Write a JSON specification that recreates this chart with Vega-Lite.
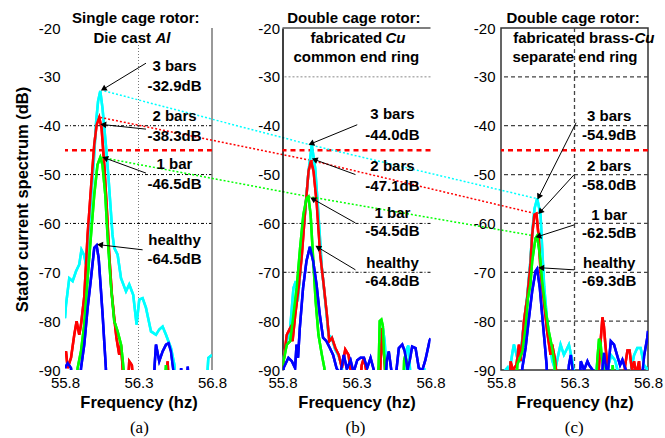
{
"$schema":"https://vega.github.io/schema/vega-lite/v6.json",
"background":"white",
"padding":{"left":14,"top":10,"right":0,"bottom":0},
"bounds":"flush",
"spacing":70.5,
"config":{"view":{"stroke":null},
 "axis":{"grid":false,"ticks":false,"domain":false,"labelFont":"Liberation Sans","labelFontSize":15,"labelColor":"#000","titleFont":"Liberation Sans","titleFontSize":16.5,"titleFontWeight":"bold","titleColor":"#000","labelPadding":5},
 "text":{"font":"Liberation Sans"}},
"datasets":{
"curves":[
{"p":"a","s":"3 bars","f":55.8,"db":-79.4},{"p":"a","s":"3 bars","f":55.807,"db":-76.6},{"p":"a","s":"3 bars","f":55.829,"db":-71.2},{"p":"a","s":"3 bars","f":55.852,"db":-71.8},{"p":"a","s":"3 bars","f":55.875,"db":-69.8},{"p":"a","s":"3 bars","f":55.897,"db":-68.4},{"p":"a","s":"3 bars","f":55.912,"db":-65.4},{"p":"a","s":"3 bars","f":55.93,"db":-66.5},{"p":"a","s":"3 bars","f":55.943,"db":-68.4},{"p":"a","s":"3 bars","f":55.958,"db":-62.3},{"p":"a","s":"3 bars","f":55.974,"db":-56.2},{"p":"a","s":"3 bars","f":55.996,"db":-47.3},{"p":"a","s":"3 bars","f":56.012,"db":-39.1},{"p":"a","s":"3 bars","f":56.025,"db":-35.0},{"p":"a","s":"3 bars","f":56.04,"db":-32.9},{"p":"a","s":"3 bars","f":56.055,"db":-36.4},{"p":"a","s":"3 bars","f":56.078,"db":-43.9},{"p":"a","s":"3 bars","f":56.096,"db":-50.7},{"p":"a","s":"3 bars","f":56.112,"db":-57.5},{"p":"a","s":"3 bars","f":56.123,"db":-62.3},{"p":"a","s":"3 bars","f":56.135,"db":-65.0},{"p":"a","s":"3 bars","f":56.158,"db":-66.4},{"p":"a","s":"3 bars","f":56.181,"db":-71.2},{"p":"a","s":"3 bars","f":56.215,"db":-73.9},{"p":"a","s":"3 bars","f":56.237,"db":-72.5},{"p":"a","s":"3 bars","f":56.264,"db":-74.6},{"p":"a","s":"3 bars","f":56.287,"db":-80.7},{"p":"a","s":"3 bars","f":56.305,"db":-75.6},{"p":"a","s":"3 bars","f":56.328,"db":-75.3},{"p":"a","s":"3 bars","f":56.351,"db":-77.3},{"p":"a","s":"3 bars","f":56.385,"db":-82.1},{"p":"a","s":"3 bars","f":56.419,"db":-82.8},{"p":"a","s":"3 bars","f":56.441,"db":-81.7},{"p":"a","s":"3 bars","f":56.464,"db":-81.1},{"p":"a","s":"3 bars","f":56.487,"db":-82.8},{"p":"a","s":"3 bars","f":56.521,"db":-85.5},{"p":"a","s":"3 bars","f":56.544,"db":-88.9},{"p":"a","s":"3 bars","f":56.56,"db":-95},{"p":"a","s":"3 bars","f":56.76,"db":-95},{"p":"a","s":"3 bars","f":56.775,"db":-87.5},{"p":"a","s":"3 bars","f":56.8,"db":-86.9},
{"p":"a","s":"2 bars","f":55.8,"db":-86.9},{"p":"a","s":"2 bars","f":55.807,"db":-86.2},{"p":"a","s":"2 bars","f":55.818,"db":-89.6},{"p":"a","s":"2 bars","f":55.841,"db":-87.5},{"p":"a","s":"2 bars","f":55.863,"db":-82.8},{"p":"a","s":"2 bars","f":55.879,"db":-80.0},{"p":"a","s":"2 bars","f":55.897,"db":-82.8},{"p":"a","s":"2 bars","f":55.909,"db":-80.7},{"p":"a","s":"2 bars","f":55.931,"db":-75.0},{"p":"a","s":"2 bars","f":55.954,"db":-62.3},{"p":"a","s":"2 bars","f":55.977,"db":-52.7},{"p":"a","s":"2 bars","f":55.999,"db":-43.9},{"p":"a","s":"2 bars","f":56.015,"db":-39.8},{"p":"a","s":"2 bars","f":56.033,"db":-38.3},{"p":"a","s":"2 bars","f":56.049,"db":-40.5},{"p":"a","s":"2 bars","f":56.067,"db":-48.0},{"p":"a","s":"2 bars","f":56.083,"db":-56.2},{"p":"a","s":"2 bars","f":56.101,"db":-66.4},{"p":"a","s":"2 bars","f":56.119,"db":-74.6},{"p":"a","s":"2 bars","f":56.135,"db":-79.4},{"p":"a","s":"2 bars","f":56.15,"db":-83.4},{"p":"a","s":"2 bars","f":56.169,"db":-86.9},{"p":"a","s":"2 bars","f":56.18,"db":-84.8},{"p":"a","s":"2 bars","f":56.191,"db":-88.9},{"p":"a","s":"2 bars","f":56.2,"db":-95},{"p":"a","s":"2 bars","f":56.225,"db":-95},{"p":"a","s":"2 bars","f":56.237,"db":-88.2},{"p":"a","s":"2 bars","f":56.255,"db":-89.0},{"p":"a","s":"2 bars","f":56.27,"db":-95},{"p":"a","s":"2 bars","f":56.485,"db":-95},{"p":"a","s":"2 bars","f":56.498,"db":-88.2},{"p":"a","s":"2 bars","f":56.51,"db":-95},
{"p":"a","s":"1 bar","f":55.8,"db":-95},{"p":"a","s":"1 bar","f":55.875,"db":-95},{"p":"a","s":"1 bar","f":55.886,"db":-89.6},{"p":"a","s":"1 bar","f":55.909,"db":-86.1},{"p":"a","s":"1 bar","f":55.931,"db":-80.7},{"p":"a","s":"1 bar","f":55.954,"db":-71.2},{"p":"a","s":"1 bar","f":55.977,"db":-62.3},{"p":"a","s":"1 bar","f":55.999,"db":-54.1},{"p":"a","s":"1 bar","f":56.021,"db":-48.0},{"p":"a","s":"1 bar","f":56.04,"db":-46.5},{"p":"a","s":"1 bar","f":56.055,"db":-48.0},{"p":"a","s":"1 bar","f":56.074,"db":-54.1},{"p":"a","s":"1 bar","f":56.089,"db":-62.3},{"p":"a","s":"1 bar","f":56.112,"db":-72.5},{"p":"a","s":"1 bar","f":56.135,"db":-80.0},{"p":"a","s":"1 bar","f":56.158,"db":-82.1},{"p":"a","s":"1 bar","f":56.181,"db":-84.8},{"p":"a","s":"1 bar","f":56.191,"db":-87.5},{"p":"a","s":"1 bar","f":56.2,"db":-90.5},{"p":"a","s":"1 bar","f":56.21,"db":-95},{"p":"a","s":"1 bar","f":56.475,"db":-95},{"p":"a","s":"1 bar","f":56.487,"db":-89.0},{"p":"a","s":"1 bar","f":56.5,"db":-95},{"p":"a","s":"1 bar","f":56.8,"db":-95},
{"p":"a","s":"healthy","f":55.8,"db":-89.6},{"p":"a","s":"healthy","f":55.818,"db":-88.6},{"p":"a","s":"healthy","f":55.841,"db":-89.6},{"p":"a","s":"healthy","f":55.85,"db":-95},{"p":"a","s":"healthy","f":55.895,"db":-95},{"p":"a","s":"healthy","f":55.909,"db":-89.6},{"p":"a","s":"healthy","f":55.931,"db":-84.8},{"p":"a","s":"healthy","f":55.954,"db":-77.3},{"p":"a","s":"healthy","f":55.977,"db":-71.2},{"p":"a","s":"healthy","f":55.999,"db":-65.0},{"p":"a","s":"healthy","f":56.015,"db":-64.5},{"p":"a","s":"healthy","f":56.029,"db":-67.1},{"p":"a","s":"healthy","f":56.045,"db":-73.9},{"p":"a","s":"healthy","f":56.056,"db":-78.7},{"p":"a","s":"healthy","f":56.067,"db":-84.2},{"p":"a","s":"healthy","f":56.078,"db":-89.6},{"p":"a","s":"healthy","f":56.085,"db":-95},{"p":"a","s":"healthy","f":56.4,"db":-95},{"p":"a","s":"healthy","f":56.41,"db":-88.9},{"p":"a","s":"healthy","f":56.419,"db":-84.8},{"p":"a","s":"healthy","f":56.441,"db":-88.2},{"p":"a","s":"healthy","f":56.464,"db":-86.2},{"p":"a","s":"healthy","f":56.487,"db":-84.8},{"p":"a","s":"healthy","f":56.505,"db":-84.5},{"p":"a","s":"healthy","f":56.521,"db":-86.2},{"p":"a","s":"healthy","f":56.537,"db":-90.0},{"p":"a","s":"healthy","f":56.545,"db":-95},{"p":"a","s":"healthy","f":56.58,"db":-95},{"p":"a","s":"healthy","f":56.59,"db":-89.6},{"p":"a","s":"healthy","f":56.6,"db":-95},{"p":"a","s":"healthy","f":56.625,"db":-95},{"p":"a","s":"healthy","f":56.635,"db":-89.3},{"p":"a","s":"healthy","f":56.645,"db":-95},{"p":"a","s":"healthy","f":56.8,"db":-95},
{"p":"b","s":"3 bars","f":55.8,"db":-89},{"p":"b","s":"3 bars","f":55.807,"db":-87.5},{"p":"b","s":"3 bars","f":55.829,"db":-84.1},{"p":"b","s":"3 bars","f":55.852,"db":-81.4},{"p":"b","s":"3 bars","f":55.874,"db":-73.2},{"p":"b","s":"3 bars","f":55.89,"db":-71.8},{"p":"b","s":"3 bars","f":55.903,"db":-75.9},{"p":"b","s":"3 bars","f":55.92,"db":-70.0},{"p":"b","s":"3 bars","f":55.935,"db":-63.0},{"p":"b","s":"3 bars","f":55.953,"db":-57.5},{"p":"b","s":"3 bars","f":55.976,"db":-49.3},{"p":"b","s":"3 bars","f":55.998,"db":-44.0},{"p":"b","s":"3 bars","f":56.021,"db":-48.7},{"p":"b","s":"3 bars","f":56.043,"db":-58.2},{"p":"b","s":"3 bars","f":56.066,"db":-69.1},{"p":"b","s":"3 bars","f":56.089,"db":-75.9},{"p":"b","s":"3 bars","f":56.111,"db":-82.8},{"p":"b","s":"3 bars","f":56.133,"db":-83.4},{"p":"b","s":"3 bars","f":56.156,"db":-85.8},{"p":"b","s":"3 bars","f":56.178,"db":-87.0},{"p":"b","s":"3 bars","f":56.2,"db":-89.0},{"p":"b","s":"3 bars","f":56.21,"db":-95},{"p":"b","s":"3 bars","f":56.45,"db":-95},{"p":"b","s":"3 bars","f":56.462,"db":-84.0},{"p":"b","s":"3 bars","f":56.478,"db":-81.4},{"p":"b","s":"3 bars","f":56.49,"db":-84.0},{"p":"b","s":"3 bars","f":56.5,"db":-89.0},{"p":"b","s":"3 bars","f":56.51,"db":-95},{"p":"b","s":"3 bars","f":56.625,"db":-95},{"p":"b","s":"3 bars","f":56.635,"db":-86.0},{"p":"b","s":"3 bars","f":56.65,"db":-85.0},{"p":"b","s":"3 bars","f":56.662,"db":-90.0},{"p":"b","s":"3 bars","f":56.67,"db":-95},{"p":"b","s":"3 bars","f":56.75,"db":-95},{"p":"b","s":"3 bars","f":56.757,"db":-89.6},{"p":"b","s":"3 bars","f":56.765,"db":-95},
{"p":"b","s":"2 bars","f":55.8,"db":-90},{"p":"b","s":"2 bars","f":55.807,"db":-88.2},{"p":"b","s":"2 bars","f":55.829,"db":-82.8},{"p":"b","s":"2 bars","f":55.852,"db":-81.4},{"p":"b","s":"2 bars","f":55.868,"db":-84.1},{"p":"b","s":"2 bars","f":55.886,"db":-78.7},{"p":"b","s":"2 bars","f":55.909,"db":-73.2},{"p":"b","s":"2 bars","f":55.931,"db":-66.4},{"p":"b","s":"2 bars","f":55.953,"db":-57.5},{"p":"b","s":"2 bars","f":55.976,"db":-49.3},{"p":"b","s":"2 bars","f":55.992,"db":-47.1},{"p":"b","s":"2 bars","f":56.01,"db":-49.3},{"p":"b","s":"2 bars","f":56.032,"db":-56.2},{"p":"b","s":"2 bars","f":56.055,"db":-66.4},{"p":"b","s":"2 bars","f":56.078,"db":-72.5},{"p":"b","s":"2 bars","f":56.1,"db":-78.7},{"p":"b","s":"2 bars","f":56.116,"db":-84.1},{"p":"b","s":"2 bars","f":56.134,"db":-83.4},{"p":"b","s":"2 bars","f":56.157,"db":-85.5},{"p":"b","s":"2 bars","f":56.18,"db":-86.9},{"p":"b","s":"2 bars","f":56.201,"db":-89.6},{"p":"b","s":"2 bars","f":56.224,"db":-85.8},{"p":"b","s":"2 bars","f":56.246,"db":-86.9},{"p":"b","s":"2 bars","f":56.26,"db":-90.0},{"p":"b","s":"2 bars","f":56.275,"db":-95},{"p":"b","s":"2 bars","f":56.32,"db":-95},{"p":"b","s":"2 bars","f":56.335,"db":-89.0},{"p":"b","s":"2 bars","f":56.35,"db":-87.5},{"p":"b","s":"2 bars","f":56.365,"db":-90.0},{"p":"b","s":"2 bars","f":56.375,"db":-95},{"p":"b","s":"2 bars","f":56.455,"db":-95},{"p":"b","s":"2 bars","f":56.465,"db":-86.0},{"p":"b","s":"2 bars","f":56.474,"db":-81.4},{"p":"b","s":"2 bars","f":56.483,"db":-86.2},{"p":"b","s":"2 bars","f":56.492,"db":-89.0},{"p":"b","s":"2 bars","f":56.5,"db":-95},
{"p":"b","s":"1 bar","f":55.8,"db":-90.5},{"p":"b","s":"1 bar","f":55.807,"db":-88.2},{"p":"b","s":"1 bar","f":55.829,"db":-84.8},{"p":"b","s":"1 bar","f":55.852,"db":-84.1},{"p":"b","s":"1 bar","f":55.874,"db":-78.7},{"p":"b","s":"1 bar","f":55.896,"db":-73.2},{"p":"b","s":"1 bar","f":55.919,"db":-65.0},{"p":"b","s":"1 bar","f":55.941,"db":-58.2},{"p":"b","s":"1 bar","f":55.963,"db":-54.8},{"p":"b","s":"1 bar","f":55.975,"db":-54.5},{"p":"b","s":"1 bar","f":55.99,"db":-58.2},{"p":"b","s":"1 bar","f":56.008,"db":-67.7},{"p":"b","s":"1 bar","f":56.024,"db":-75.9},{"p":"b","s":"1 bar","f":56.043,"db":-82.8},{"p":"b","s":"1 bar","f":56.066,"db":-86.9},{"p":"b","s":"1 bar","f":56.083,"db":-89.6},{"p":"b","s":"1 bar","f":56.09,"db":-95},{"p":"b","s":"1 bar","f":56.44,"db":-95},{"p":"b","s":"1 bar","f":56.45,"db":-88.9},{"p":"b","s":"1 bar","f":56.457,"db":-80.0},{"p":"b","s":"1 bar","f":56.468,"db":-79.7},{"p":"b","s":"1 bar","f":56.478,"db":-81.0},{"p":"b","s":"1 bar","f":56.485,"db":-86.2},{"p":"b","s":"1 bar","f":56.492,"db":-89.0},{"p":"b","s":"1 bar","f":56.5,"db":-95},{"p":"b","s":"1 bar","f":56.615,"db":-95},{"p":"b","s":"1 bar","f":56.622,"db":-88.0},{"p":"b","s":"1 bar","f":56.631,"db":-86.9},{"p":"b","s":"1 bar","f":56.645,"db":-90.0},{"p":"b","s":"1 bar","f":56.65,"db":-95},
{"p":"b","s":"healthy","f":55.8,"db":-95},{"p":"b","s":"healthy","f":55.807,"db":-89.6},{"p":"b","s":"healthy","f":55.84,"db":-87.5},{"p":"b","s":"healthy","f":55.863,"db":-88.2},{"p":"b","s":"healthy","f":55.885,"db":-89.6},{"p":"b","s":"healthy","f":55.895,"db":-84.8},{"p":"b","s":"healthy","f":55.905,"db":-87.5},{"p":"b","s":"healthy","f":55.917,"db":-81.4},{"p":"b","s":"healthy","f":55.939,"db":-73.2},{"p":"b","s":"healthy","f":55.962,"db":-67.7},{"p":"b","s":"healthy","f":55.985,"db":-64.8},{"p":"b","s":"healthy","f":56.007,"db":-67.7},{"p":"b","s":"healthy","f":56.03,"db":-72.5},{"p":"b","s":"healthy","f":56.052,"db":-78.7},{"p":"b","s":"healthy","f":56.074,"db":-83.4},{"p":"b","s":"healthy","f":56.097,"db":-84.1},{"p":"b","s":"healthy","f":56.12,"db":-85.5},{"p":"b","s":"healthy","f":56.142,"db":-86.9},{"p":"b","s":"healthy","f":56.165,"db":-89.6},{"p":"b","s":"healthy","f":56.19,"db":-91},{"p":"b","s":"healthy","f":56.214,"db":-86.9},{"p":"b","s":"healthy","f":56.235,"db":-89.8},{"p":"b","s":"healthy","f":56.26,"db":-88.0},{"p":"b","s":"healthy","f":56.28,"db":-90.5},{"p":"b","s":"healthy","f":56.305,"db":-88.0},{"p":"b","s":"healthy","f":56.327,"db":-87.5},{"p":"b","s":"healthy","f":56.35,"db":-87.5},{"p":"b","s":"healthy","f":56.372,"db":-89.6},{"p":"b","s":"healthy","f":56.395,"db":-87.5},{"p":"b","s":"healthy","f":56.417,"db":-90.0},{"p":"b","s":"healthy","f":56.44,"db":-95},{"p":"b","s":"healthy","f":56.49,"db":-95},{"p":"b","s":"healthy","f":56.505,"db":-88.0},{"p":"b","s":"healthy","f":56.518,"db":-86.2},{"p":"b","s":"healthy","f":56.535,"db":-90.0},{"p":"b","s":"healthy","f":56.555,"db":-95},{"p":"b","s":"healthy","f":56.57,"db":-90.0},{"p":"b","s":"healthy","f":56.586,"db":-85.5},{"p":"b","s":"healthy","f":56.609,"db":-84.8},{"p":"b","s":"healthy","f":56.626,"db":-86.2},{"p":"b","s":"healthy","f":56.645,"db":-90.0},{"p":"b","s":"healthy","f":56.66,"db":-88.0},{"p":"b","s":"healthy","f":56.676,"db":-85.2},{"p":"b","s":"healthy","f":56.699,"db":-85.5},{"p":"b","s":"healthy","f":56.721,"db":-89.6},{"p":"b","s":"healthy","f":56.745,"db":-90.0},{"p":"b","s":"healthy","f":56.765,"db":-88.0},{"p":"b","s":"healthy","f":56.778,"db":-86.2},{"p":"b","s":"healthy","f":56.793,"db":-84.1},{"p":"b","s":"healthy","f":56.8,"db":-83.5},
{"p":"c","s":"3 bars","f":55.8,"db":-91},{"p":"c","s":"3 bars","f":55.845,"db":-89.5},{"p":"c","s":"3 bars","f":55.856,"db":-90.5},{"p":"c","s":"3 bars","f":55.87,"db":-88.0},{"p":"c","s":"3 bars","f":55.879,"db":-86.2},{"p":"c","s":"3 bars","f":55.888,"db":-84.8},{"p":"c","s":"3 bars","f":55.911,"db":-87.5},{"p":"c","s":"3 bars","f":55.93,"db":-88.0},{"p":"c","s":"3 bars","f":55.95,"db":-82.0},{"p":"c","s":"3 bars","f":55.978,"db":-75.0},{"p":"c","s":"3 bars","f":55.999,"db":-68.0},{"p":"c","s":"3 bars","f":56.012,"db":-62.0},{"p":"c","s":"3 bars","f":56.028,"db":-57.0},{"p":"c","s":"3 bars","f":56.046,"db":-54.9},{"p":"c","s":"3 bars","f":56.069,"db":-58.2},{"p":"c","s":"3 bars","f":56.08,"db":-65.0},{"p":"c","s":"3 bars","f":56.094,"db":-73.0},{"p":"c","s":"3 bars","f":56.114,"db":-80.0},{"p":"c","s":"3 bars","f":56.135,"db":-85.0},{"p":"c","s":"3 bars","f":56.148,"db":-88.0},{"p":"c","s":"3 bars","f":56.169,"db":-90.0},{"p":"c","s":"3 bars","f":56.182,"db":-88.0},{"p":"c","s":"3 bars","f":56.205,"db":-84.8},{"p":"c","s":"3 bars","f":56.228,"db":-86.9},{"p":"c","s":"3 bars","f":56.243,"db":-86.0},{"p":"c","s":"3 bars","f":56.262,"db":-84.8},{"p":"c","s":"3 bars","f":56.284,"db":-88.0},{"p":"c","s":"3 bars","f":56.298,"db":-91},{"p":"c","s":"3 bars","f":56.31,"db":-95},{"p":"c","s":"3 bars","f":56.433,"db":-95},{"p":"c","s":"3 bars","f":56.456,"db":-88.2},{"p":"c","s":"3 bars","f":56.479,"db":-86.7},{"p":"c","s":"3 bars","f":56.5,"db":-88.0},{"p":"c","s":"3 bars","f":56.52,"db":-90.0},{"p":"c","s":"3 bars","f":56.55,"db":-87.0},{"p":"c","s":"3 bars","f":56.576,"db":-88.0},{"p":"c","s":"3 bars","f":56.6,"db":-91},{"p":"c","s":"3 bars","f":56.644,"db":-95},{"p":"c","s":"3 bars","f":56.685,"db":-90.0},{"p":"c","s":"3 bars","f":56.705,"db":-87.0},{"p":"c","s":"3 bars","f":56.727,"db":-85.5},{"p":"c","s":"3 bars","f":56.75,"db":-85.5},{"p":"c","s":"3 bars","f":56.773,"db":-89.0},{"p":"c","s":"3 bars","f":56.8,"db":-90.0},
{"p":"c","s":"2 bars","f":55.8,"db":-95},{"p":"c","s":"2 bars","f":55.855,"db":-95},{"p":"c","s":"2 bars","f":55.865,"db":-88.2},{"p":"c","s":"2 bars","f":55.88,"db":-90.0},{"p":"c","s":"2 bars","f":55.905,"db":-89.0},{"p":"c","s":"2 bars","f":55.922,"db":-84.8},{"p":"c","s":"2 bars","f":55.933,"db":-88.2},{"p":"c","s":"2 bars","f":55.956,"db":-80.0},{"p":"c","s":"2 bars","f":55.978,"db":-75.3},{"p":"c","s":"2 bars","f":56.0,"db":-68.4},{"p":"c","s":"2 bars","f":56.012,"db":-62.3},{"p":"c","s":"2 bars","f":56.027,"db":-58.2},{"p":"c","s":"2 bars","f":56.041,"db":-58.0},{"p":"c","s":"2 bars","f":56.057,"db":-63.0},{"p":"c","s":"2 bars","f":56.069,"db":-69.8},{"p":"c","s":"2 bars","f":56.092,"db":-75.9},{"p":"c","s":"2 bars","f":56.114,"db":-82.1},{"p":"c","s":"2 bars","f":56.137,"db":-86.9},{"p":"c","s":"2 bars","f":56.148,"db":-84.8},{"p":"c","s":"2 bars","f":56.17,"db":-88.2},{"p":"c","s":"2 bars","f":56.185,"db":-95},{"p":"c","s":"2 bars","f":56.455,"db":-95},{"p":"c","s":"2 bars","f":56.467,"db":-89.0},{"p":"c","s":"2 bars","f":56.478,"db":-84.0},{"p":"c","s":"2 bars","f":56.49,"db":-79.2},{"p":"c","s":"2 bars","f":56.5,"db":-81.0},{"p":"c","s":"2 bars","f":56.51,"db":-84.8},{"p":"c","s":"2 bars","f":56.52,"db":-88.0},{"p":"c","s":"2 bars","f":56.53,"db":-95},{"p":"c","s":"2 bars","f":56.63,"db":-95},{"p":"c","s":"2 bars","f":56.645,"db":-89.0},{"p":"c","s":"2 bars","f":56.66,"db":-86.0},{"p":"c","s":"2 bars","f":56.675,"db":-86.0},{"p":"c","s":"2 bars","f":56.69,"db":-90.0},{"p":"c","s":"2 bars","f":56.705,"db":-88.2},{"p":"c","s":"2 bars","f":56.72,"db":-91},{"p":"c","s":"2 bars","f":56.739,"db":-88.2},{"p":"c","s":"2 bars","f":56.755,"db":-95},{"p":"c","s":"2 bars","f":56.8,"db":-95},
{"p":"c","s":"1 bar","f":55.8,"db":-95},{"p":"c","s":"1 bar","f":55.9,"db":-95},{"p":"c","s":"1 bar","f":55.911,"db":-88.9},{"p":"c","s":"1 bar","f":55.945,"db":-86.2},{"p":"c","s":"1 bar","f":55.967,"db":-81.4},{"p":"c","s":"1 bar","f":55.983,"db":-75.3},{"p":"c","s":"1 bar","f":56.0,"db":-72.5},{"p":"c","s":"1 bar","f":56.012,"db":-67.7},{"p":"c","s":"1 bar","f":56.035,"db":-63.0},{"p":"c","s":"1 bar","f":56.046,"db":-62.5},{"p":"c","s":"1 bar","f":56.064,"db":-66.4},{"p":"c","s":"1 bar","f":56.08,"db":-71.8},{"p":"c","s":"1 bar","f":56.102,"db":-77.3},{"p":"c","s":"1 bar","f":56.125,"db":-82.1},{"p":"c","s":"1 bar","f":56.148,"db":-85.5},{"p":"c","s":"1 bar","f":56.165,"db":-89.0},{"p":"c","s":"1 bar","f":56.175,"db":-95},{"p":"c","s":"1 bar","f":56.445,"db":-95},{"p":"c","s":"1 bar","f":56.455,"db":-88.0},{"p":"c","s":"1 bar","f":56.467,"db":-83.6},{"p":"c","s":"1 bar","f":56.477,"db":-84.5},{"p":"c","s":"1 bar","f":56.485,"db":-87.2},{"p":"c","s":"1 bar","f":56.495,"db":-89.0},{"p":"c","s":"1 bar","f":56.505,"db":-95},{"p":"c","s":"1 bar","f":56.55,"db":-95},{"p":"c","s":"1 bar","f":56.56,"db":-89.0},{"p":"c","s":"1 bar","f":56.57,"db":-95},{"p":"c","s":"1 bar","f":56.8,"db":-95},
{"p":"c","s":"healthy","f":55.8,"db":-95},{"p":"c","s":"healthy","f":55.93,"db":-95},{"p":"c","s":"healthy","f":55.945,"db":-89.6},{"p":"c","s":"healthy","f":55.967,"db":-85.5},{"p":"c","s":"healthy","f":55.99,"db":-79.4},{"p":"c","s":"healthy","f":56.012,"db":-73.9},{"p":"c","s":"healthy","f":56.035,"db":-69.8},{"p":"c","s":"healthy","f":56.046,"db":-69.3},{"p":"c","s":"healthy","f":56.064,"db":-73.2},{"p":"c","s":"healthy","f":56.08,"db":-78.7},{"p":"c","s":"healthy","f":56.096,"db":-84.1},{"p":"c","s":"healthy","f":56.11,"db":-88.9},{"p":"c","s":"healthy","f":56.12,"db":-95},{"p":"c","s":"healthy","f":56.25,"db":-95},{"p":"c","s":"healthy","f":56.262,"db":-89.0},{"p":"c","s":"healthy","f":56.275,"db":-86.9},{"p":"c","s":"healthy","f":56.288,"db":-90.0},{"p":"c","s":"healthy","f":56.3,"db":-95},{"p":"c","s":"healthy","f":56.33,"db":-95},{"p":"c","s":"healthy","f":56.343,"db":-88.2},{"p":"c","s":"healthy","f":56.365,"db":-90.0},{"p":"c","s":"healthy","f":56.388,"db":-88.2},{"p":"c","s":"healthy","f":56.4,"db":-89.0},{"p":"c","s":"healthy","f":56.423,"db":-90.0},{"p":"c","s":"healthy","f":56.44,"db":-95},{"p":"c","s":"healthy","f":56.485,"db":-95},{"p":"c","s":"healthy","f":56.492,"db":-89.0},{"p":"c","s":"healthy","f":56.501,"db":-86.5},{"p":"c","s":"healthy","f":56.512,"db":-89.0},{"p":"c","s":"healthy","f":56.525,"db":-91},{"p":"c","s":"healthy","f":56.535,"db":-88.0},{"p":"c","s":"healthy","f":56.547,"db":-84.1},{"p":"c","s":"healthy","f":56.569,"db":-84.8},{"p":"c","s":"healthy","f":56.592,"db":-87.2},{"p":"c","s":"healthy","f":56.61,"db":-89.0},{"p":"c","s":"healthy","f":56.626,"db":-87.9},{"p":"c","s":"healthy","f":56.649,"db":-90.0},{"p":"c","s":"healthy","f":56.66,"db":-95},{"p":"c","s":"healthy","f":56.75,"db":-95},{"p":"c","s":"healthy","f":56.773,"db":-87.2},{"p":"c","s":"healthy","f":56.795,"db":-83.4},{"p":"c","s":"healthy","f":56.8,"db":-82.0}
],
"links":[
{"p":"a","s":"3 bars","f":56.068,"db":-32.9},{"p":"a","s":"3 bars","f":57.479,"db":-44.0},
{"p":"a","s":"2 bars","f":56.04,"db":-38.3},{"p":"a","s":"2 bars","f":57.473,"db":-47.1},
{"p":"a","s":"1 bar","f":56.05,"db":-46.5},{"p":"a","s":"1 bar","f":57.456,"db":-54.5},
{"p":"b","s":"3 bars","f":55.998,"db":-44.0},{"p":"b","s":"3 bars","f":57.515,"db":-54.9},
{"p":"b","s":"2 bars","f":55.992,"db":-47.1},{"p":"b","s":"2 bars","f":57.51,"db":-58.0},
{"p":"b","s":"1 bar","f":55.975,"db":-54.5},{"p":"b","s":"1 bar","f":57.495,"db":-62.5}
],
"arrows":[
{"p":"a","x":56.351,"y":-27.2,"x2":56.067,"y2":-32.4},{"p":"a","x":56.351,"y":-40.7,"x2":56.067,"y2":-39.8},{"p":"a","x":56.351,"y":-49.7,"x2":56.079,"y2":-46.7},{"p":"a","x":56.328,"y":-65.4,"x2":56.045,"y2":-64.4},
{"p":"b","x":56.305,"y":-39.8,"x2":56.0,"y2":-43.6},{"p":"b","x":56.293,"y":-50.0,"x2":56.023,"y2":-47.0},{"p":"b","x":56.293,"y":-59.9,"x2":56.011,"y2":-55.1},{"p":"b","x":56.293,"y":-69.5,"x2":56.045,"y2":-65.0},
{"p":"c","x":56.311,"y":-39.4,"x2":56.06,"y2":-54.4},{"p":"c","x":56.298,"y":-50.0,"x2":56.071,"y2":-57.5},{"p":"c","x":56.298,"y":-60.3,"x2":56.06,"y2":-62.6},{"p":"c","x":56.298,"y":-69.5,"x2":56.08,"y2":-69.1}
],
"notes":[
{"p":"a","t":"3 bars","x":56.545,"y":-27.8},{"p":"a","t":"-32.9dB","x":56.545,"y":-31.9},{"p":"a","t":"2 bars","x":56.545,"y":-38.0},{"p":"a","t":"-38.3dB","x":56.545,"y":-42.1},{"p":"a","t":"1 bar","x":56.545,"y":-47.8},{"p":"a","t":"-46.5dB","x":56.545,"y":-51.9},{"p":"a","t":"healthy","x":56.545,"y":-63.3},{"p":"a","t":"-64.5dB","x":56.545,"y":-67.3},
{"p":"b","t":"3 bars","x":56.543,"y":-37.7},{"p":"b","t":"-44.0dB","x":56.543,"y":-41.8},{"p":"b","t":"2 bars","x":56.543,"y":-48.3},{"p":"b","t":"-47.1dB","x":56.543,"y":-52.4},{"p":"b","t":"1 bar","x":56.543,"y":-57.9},{"p":"b","t":"-54.5dB","x":56.543,"y":-61.6},{"p":"b","t":"healthy","x":56.543,"y":-68.1},{"p":"b","t":"-64.8dB","x":56.543,"y":-71.8},
{"p":"c","t":"3 bars","x":56.536,"y":-38.1},{"p":"c","t":"-54.9dB","x":56.536,"y":-41.8},{"p":"c","t":"2 bars","x":56.536,"y":-48.3},{"p":"c","t":"-58.0dB","x":56.536,"y":-52.1},{"p":"c","t":"1 bar","x":56.536,"y":-58.2},{"p":"c","t":"-62.5dB","x":56.536,"y":-62.0},{"p":"c","t":"healthy","x":56.536,"y":-68.1},{"p":"c","t":"-69.3dB","x":56.536,"y":-71.8}
],
"heads":[
{"p":"a","t":"Single cage rotor:","x":56.282,"y":-17.95},
{"p":"b","t":"Double cage rotor:","x":56.282,"y":-17.95},{"p":"b","t":"common end ring","x":56.299,"y":-26.0},
{"p":"c","t":"Double cage rotor:","x":56.291,"y":-17.95},{"p":"c","t":"separate end ring","x":56.303,"y":-26.0}
],
"headsR":[
{"p":"a","t":"Die cast","x":56.385,"y":-22.05},{"p":"b","t":"fabricated","x":56.474,"y":-22.05},{"p":"c","t":"fabricated brass-","x":56.705,"y":-22.05}
],
"headsI":[
{"p":"a","t":"Al","x":56.415,"y":-22.05},{"p":"b","t":"Cu","x":56.496,"y":-22.05},{"p":"c","t":"Cu","x":56.708,"y":-22.05}
],
"caps":[
{"p":"a","t":"(a)","x":56.306,"y":-101.9},{"p":"b","t":"(b)","x":56.293,"y":-101.9},{"p":"c","t":"(c)","x":56.298,"y":-101.9}
],
"hgrid":[
{"p":"a","y":-40},{"p":"a","y":-50},{"p":"a","y":-60},
{"p":"b","y":-60},{"p":"b","y":-70},
{"p":"c","y":-30},{"p":"c","y":-40},{"p":"c","y":-50},{"p":"c","y":-60},{"p":"c","y":-70},{"p":"c","y":-80}
]
},
"hconcat":[
{"width":147,"height":342,
 "layer":[
  {"data":{"name":"curves"},"transform":[{"filter":"datum.p=='a'"}],"mark":{"type":"line","clip":true,"strokeWidth":2.5},
   "encoding":{"x":{"field":"f","type":"quantitative","scale":{"domain":[55.8,56.8],"nice":false,"zero":false},
                    "axis":{"values":[55.8,56.3,56.8],"format":".1f","title":"Frequency (hz)","labelFlush":false,"labelOverlap":false,"labelPadding":5,"titlePadding":4}},
               "y":{"field":"db","type":"quantitative","scale":{"domain":[-90,-20],"nice":false,"zero":false},
                    "axis":{"values":[-20,-30,-40,-50,-60,-70,-80,-90],"labelExpr":"replace(datum.label,'\u2212','-')","title":"Stator current spectrum (dB)","labelPadding":5,"titlePadding":8}},
               "color":{"field":"s","type":"nominal","scale":{"domain":["3 bars","2 bars","1 bar","healthy"],"range":["#00ffff","#ff0000","#00ff00","#0000ff"]},"legend":null}}},
  {"data":{"values":[{}]},"mark":{"type":"rule","color":"#777","strokeDash":[1,2],"strokeWidth":1},
   "encoding":{"x":{"datum":56.3,"type":"quantitative"},"y":{"datum":-90,"type":"quantitative"},"y2":{"datum":-23}}},
  {"data":{"name":"hgrid"},"transform":[{"filter":"datum.p=='a'"}],"mark":{"type":"rule","color":"#000","strokeDash":[3,2,1,2],"strokeWidth":1},
   "encoding":{"y":{"field":"y","type":"quantitative"}}},
  {"data":{"values":[{}]},"mark":{"type":"rule","color":"#777","strokeWidth":1.5},
   "encoding":{"x":{"datum":56.8,"type":"quantitative"}}},
  {"data":{"values":[{}]},"mark":{"type":"rule","color":"#ff0000","strokeDash":[5,4],"strokeWidth":2.5},
   "encoding":{"y":{"datum":-45,"type":"quantitative"}}},
  {"data":{"name":"curves"},"transform":[{"filter":"datum.p=='a'"}],"mark":{"type":"line","clip":true,"strokeWidth":2.5},
   "encoding":{"x":{"field":"f","type":"quantitative"},"y":{"field":"db","type":"quantitative"},
               "color":{"field":"s","type":"nominal","legend":null}}},
  {"data":{"name":"links"},"transform":[{"filter":"datum.p=='a'"}],"mark":{"type":"line","clip":false,"strokeWidth":1.5,"strokeDash":[2,2]},
   "encoding":{"x":{"field":"f","type":"quantitative"},"y":{"field":"db","type":"quantitative"},
               "color":{"field":"s","type":"nominal","legend":null}}},
  {"data":{"name":"arrows"},"transform":[{"filter":"datum.p=='a'"}],"mark":{"type":"rule","color":"#000","strokeWidth":1},
   "encoding":{"x":{"field":"x","type":"quantitative"},"y":{"field":"y","type":"quantitative"},"x2":{"field":"x2"},"y2":{"field":"y2"}}},
  {"data":{"name":"arrows"},"transform":[{"filter":"datum.p=='a'"},{"calculate":"atan2((datum.x2-datum.x)*147,(datum.y2-datum.y)*4.886)*180/PI","as":"ang"}],
   "mark":{"type":"point","shape":"triangle","filled":true,"color":"#000","size":45,"opacity":1},
   "encoding":{"x":{"field":"x2","type":"quantitative"},"y":{"field":"y2","type":"quantitative"},"angle":{"field":"ang","type":"quantitative","scale":null}}},
  {"data":{"name":"notes"},"transform":[{"filter":"datum.p=='a'"}],"mark":{"type":"text","fontWeight":"bold","fontSize":15,"color":"#000","align":"center","baseline":"middle"},
   "encoding":{"x":{"field":"x","type":"quantitative"},"y":{"field":"y","type":"quantitative"},"text":{"field":"t"}}},
  {"data":{"name":"heads"},"transform":[{"filter":"datum.p=='a'"}],"mark":{"type":"text","fontWeight":"bold","fontSize":15,"color":"#000","align":"center","baseline":"middle"},
   "encoding":{"x":{"field":"x","type":"quantitative"},"y":{"field":"y","type":"quantitative"},"text":{"field":"t"}}},
  {"data":{"name":"headsR"},"transform":[{"filter":"datum.p=='a'"}],"mark":{"type":"text","fontWeight":"bold","fontSize":15,"color":"#000","align":"right","baseline":"middle"},
   "encoding":{"x":{"field":"x","type":"quantitative"},"y":{"field":"y","type":"quantitative"},"text":{"field":"t"}}},
  {"data":{"name":"headsI"},"transform":[{"filter":"datum.p=='a'"}],"mark":{"type":"text","fontWeight":"bold","fontStyle":"italic","fontSize":15,"color":"#000","align":"left","baseline":"middle"},
   "encoding":{"x":{"field":"x","type":"quantitative"},"y":{"field":"y","type":"quantitative"},"text":{"field":"t"}}},
  {"data":{"name":"caps"},"transform":[{"filter":"datum.p=='a'"}],"mark":{"type":"text","font":"Liberation Serif","fontSize":17,"color":"#000","align":"center","baseline":"middle"},
   "encoding":{"x":{"field":"x","type":"quantitative"},"y":{"field":"y","type":"quantitative"},"text":{"field":"t"}}}
 ]},
{"width":148,"height":342,
 "layer":[
  {"data":{"name":"curves"},"transform":[{"filter":"datum.p=='b'"}],"mark":{"type":"line","clip":true,"strokeWidth":2.5},
   "encoding":{"x":{"field":"f","type":"quantitative","scale":{"domain":[55.8,56.8],"nice":false,"zero":false},
                    "axis":{"values":[55.8,56.3,56.8],"format":".1f","title":"Frequency (hz)","labelFlush":false,"labelOverlap":false,"labelPadding":5,"titlePadding":4}},
               "y":{"field":"db","type":"quantitative","scale":{"domain":[-90,-20],"nice":false,"zero":false},
                    "axis":{"values":[-20,-30,-40,-50,-60,-70,-80,-90],"labelExpr":"replace(datum.label,'\u2212','-')","title":null,"labelPadding":3,"domain":true,"domainColor":"#000","domainWidth":1.5}},
               "color":{"field":"s","type":"nominal","scale":{"domain":["3 bars","2 bars","1 bar","healthy"],"range":["#00ffff","#ff0000","#00ff00","#0000ff"]},"legend":null}}},
  {"data":{"values":[{}]},"mark":{"type":"rule","color":"#888","strokeDash":[2,2],"strokeWidth":1},
   "encoding":{"y":{"datum":-30,"type":"quantitative"}}},
  {"data":{"name":"hgrid"},"transform":[{"filter":"datum.p=='b'"}],"mark":{"type":"rule","color":"#000","strokeDash":[3,2,1,2],"strokeWidth":1},
   "encoding":{"y":{"field":"y","type":"quantitative"}}},
  {"data":{"values":[{}]},"mark":{"type":"rule","color":"#555","strokeWidth":1.5},
   "encoding":{"y":{"datum":-20,"type":"quantitative"}}},
  {"data":{"values":[{}]},"mark":{"type":"rule","color":"#ff0000","strokeDash":[5,4],"strokeWidth":2.5},
   "encoding":{"y":{"datum":-45,"type":"quantitative"}}},
  {"data":{"name":"curves"},"transform":[{"filter":"datum.p=='b'"}],"mark":{"type":"line","clip":true,"strokeWidth":2.5},
   "encoding":{"x":{"field":"f","type":"quantitative"},"y":{"field":"db","type":"quantitative"},
               "color":{"field":"s","type":"nominal","legend":null}}},
  {"data":{"name":"links"},"transform":[{"filter":"datum.p=='b'"}],"mark":{"type":"line","clip":false,"strokeWidth":1.5,"strokeDash":[2,2]},
   "encoding":{"x":{"field":"f","type":"quantitative"},"y":{"field":"db","type":"quantitative"},
               "color":{"field":"s","type":"nominal","legend":null}}},
  {"data":{"name":"arrows"},"transform":[{"filter":"datum.p=='b'"}],"mark":{"type":"rule","color":"#000","strokeWidth":1},
   "encoding":{"x":{"field":"x","type":"quantitative"},"y":{"field":"y","type":"quantitative"},"x2":{"field":"x2"},"y2":{"field":"y2"}}},
  {"data":{"name":"arrows"},"transform":[{"filter":"datum.p=='b'"},{"calculate":"atan2((datum.x2-datum.x)*148,(datum.y2-datum.y)*4.886)*180/PI","as":"ang"}],
   "mark":{"type":"point","shape":"triangle","filled":true,"color":"#000","size":45,"opacity":1},
   "encoding":{"x":{"field":"x2","type":"quantitative"},"y":{"field":"y2","type":"quantitative"},"angle":{"field":"ang","type":"quantitative","scale":null}}},
  {"data":{"name":"notes"},"transform":[{"filter":"datum.p=='b'"}],"mark":{"type":"text","fontWeight":"bold","fontSize":15,"color":"#000","align":"center","baseline":"middle"},
   "encoding":{"x":{"field":"x","type":"quantitative"},"y":{"field":"y","type":"quantitative"},"text":{"field":"t"}}},
  {"data":{"name":"heads"},"transform":[{"filter":"datum.p=='b'"}],"mark":{"type":"text","fontWeight":"bold","fontSize":15,"color":"#000","align":"center","baseline":"middle"},
   "encoding":{"x":{"field":"x","type":"quantitative"},"y":{"field":"y","type":"quantitative"},"text":{"field":"t"}}},
  {"data":{"name":"headsR"},"transform":[{"filter":"datum.p=='b'"}],"mark":{"type":"text","fontWeight":"bold","fontSize":15,"color":"#000","align":"right","baseline":"middle"},
   "encoding":{"x":{"field":"x","type":"quantitative"},"y":{"field":"y","type":"quantitative"},"text":{"field":"t"}}},
  {"data":{"name":"headsI"},"transform":[{"filter":"datum.p=='b'"}],"mark":{"type":"text","fontWeight":"bold","fontStyle":"italic","fontSize":15,"color":"#000","align":"left","baseline":"middle"},
   "encoding":{"x":{"field":"x","type":"quantitative"},"y":{"field":"y","type":"quantitative"},"text":{"field":"t"}}},
  {"data":{"name":"caps"},"transform":[{"filter":"datum.p=='b'"}],"mark":{"type":"text","font":"Liberation Serif","fontSize":17,"color":"#000","align":"center","baseline":"middle"},
   "encoding":{"x":{"field":"x","type":"quantitative"},"y":{"field":"y","type":"quantitative"},"text":{"field":"t"}}}
 ]},
{"width":147,"height":342,"view":{"stroke":"#333","strokeWidth":1.5},
 "layer":[
  {"data":{"name":"curves"},"transform":[{"filter":"datum.p=='c'"}],"mark":{"type":"line","clip":true,"strokeWidth":2.5},
   "encoding":{"x":{"field":"f","type":"quantitative","scale":{"domain":[55.8,56.8],"nice":false,"zero":false},
                    "axis":{"values":[55.8,56.3,56.8],"format":".1f","title":"Frequency (hz)","labelFlush":false,"labelOverlap":false,"labelPadding":5,"titlePadding":4}},
               "y":{"field":"db","type":"quantitative","scale":{"domain":[-90,-20],"nice":false,"zero":false},
                    "axis":{"values":[-20,-30,-40,-50,-60,-70,-80,-90],"labelExpr":"replace(datum.label,'\u2212','-')","title":null,"labelPadding":6}},
               "color":{"field":"s","type":"nominal","scale":{"domain":["3 bars","2 bars","1 bar","healthy"],"range":["#00ffff","#ff0000","#00ff00","#0000ff"]},"legend":null}}},
  {"data":{"values":[{}]},"mark":{"type":"rule","color":"#444","strokeDash":[4,3],"strokeWidth":1.3},
   "encoding":{"x":{"datum":56.3,"type":"quantitative"}}},
  {"data":{"name":"hgrid"},"transform":[{"filter":"datum.p=='c'"}],"mark":{"type":"rule","color":"#444","strokeDash":[4,3],"strokeWidth":1.3},
   "encoding":{"y":{"field":"y","type":"quantitative"}}},
  {"data":{"values":[{}]},"mark":{"type":"rule","color":"#ff0000","strokeDash":[5,4],"strokeWidth":2.5},
   "encoding":{"y":{"datum":-45,"type":"quantitative"}}},
  {"data":{"name":"curves"},"transform":[{"filter":"datum.p=='c'"}],"mark":{"type":"line","clip":true,"strokeWidth":2.5},
   "encoding":{"x":{"field":"f","type":"quantitative"},"y":{"field":"db","type":"quantitative"},
               "color":{"field":"s","type":"nominal","legend":null}}},
  {"data":{"name":"arrows"},"transform":[{"filter":"datum.p=='c'"}],"mark":{"type":"rule","color":"#000","strokeWidth":1},
   "encoding":{"x":{"field":"x","type":"quantitative"},"y":{"field":"y","type":"quantitative"},"x2":{"field":"x2"},"y2":{"field":"y2"}}},
  {"data":{"name":"arrows"},"transform":[{"filter":"datum.p=='c'"},{"calculate":"atan2((datum.x2-datum.x)*147,(datum.y2-datum.y)*4.886)*180/PI","as":"ang"}],
   "mark":{"type":"point","shape":"triangle","filled":true,"color":"#000","size":45,"opacity":1},
   "encoding":{"x":{"field":"x2","type":"quantitative"},"y":{"field":"y2","type":"quantitative"},"angle":{"field":"ang","type":"quantitative","scale":null}}},
  {"data":{"name":"notes"},"transform":[{"filter":"datum.p=='c'"}],"mark":{"type":"text","fontWeight":"bold","fontSize":15,"color":"#000","align":"center","baseline":"middle"},
   "encoding":{"x":{"field":"x","type":"quantitative"},"y":{"field":"y","type":"quantitative"},"text":{"field":"t"}}},
  {"data":{"name":"heads"},"transform":[{"filter":"datum.p=='c'"}],"mark":{"type":"text","fontWeight":"bold","fontSize":15,"color":"#000","align":"center","baseline":"middle"},
   "encoding":{"x":{"field":"x","type":"quantitative"},"y":{"field":"y","type":"quantitative"},"text":{"field":"t"}}},
  {"data":{"name":"headsR"},"transform":[{"filter":"datum.p=='c'"}],"mark":{"type":"text","fontWeight":"bold","fontSize":15,"color":"#000","align":"right","baseline":"middle"},
   "encoding":{"x":{"field":"x","type":"quantitative"},"y":{"field":"y","type":"quantitative"},"text":{"field":"t"}}},
  {"data":{"name":"headsI"},"transform":[{"filter":"datum.p=='c'"}],"mark":{"type":"text","fontWeight":"bold","fontStyle":"italic","fontSize":15,"color":"#000","align":"left","baseline":"middle"},
   "encoding":{"x":{"field":"x","type":"quantitative"},"y":{"field":"y","type":"quantitative"},"text":{"field":"t"}}},
  {"data":{"name":"caps"},"transform":[{"filter":"datum.p=='c'"}],"mark":{"type":"text","font":"Liberation Serif","fontSize":17,"color":"#000","align":"center","baseline":"middle"},
   "encoding":{"x":{"field":"x","type":"quantitative"},"y":{"field":"y","type":"quantitative"},"text":{"field":"t"}}}
 ]}
]
}
